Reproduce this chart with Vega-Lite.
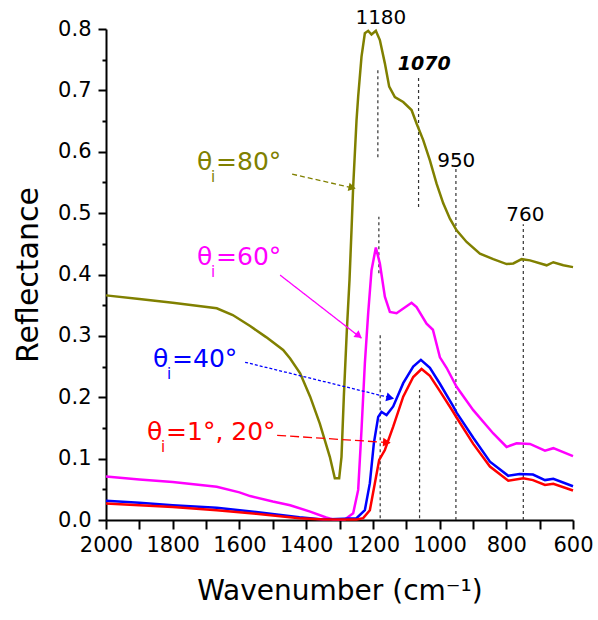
{
  "$schema": "https://vega.github.io/schema/vega-lite/v6.json",
  "width": 467,
  "height": 491,
  "autosize": {"type": "none"},
  "padding": {"left": 106, "top": 29, "right": 25, "bottom": 100},
  "config": {"view": {"stroke": null}, "font": "DejaVu Sans"},
  "datasets": {
    "curves": [
      {"s":"80","w":2000,"r":0.366},{"s":"80","w":1900,"r":0.360},{"s":"80","w":1800,"r":0.354},{"s":"80","w":1668,"r":0.345},{"s":"80","w":1620,"r":0.334},{"s":"80","w":1568,"r":0.316},{"s":"80","w":1520,"r":0.298},{"s":"80","w":1469,"r":0.277},{"s":"80","w":1448,"r":0.263},{"s":"80","w":1418,"r":0.239},{"s":"80","w":1388,"r":0.201},{"s":"80","w":1359,"r":0.157},{"s":"80","w":1329,"r":0.103},{"s":"80","w":1314,"r":0.068},{"s":"80","w":1301,"r":0.068},{"s":"80","w":1294,"r":0.103},{"s":"80","w":1287,"r":0.201},{"s":"80","w":1278,"r":0.309},{"s":"80","w":1270,"r":0.391},{"s":"80","w":1264,"r":0.472},{"s":"80","w":1259,"r":0.543},{"s":"80","w":1249,"r":0.651},{"s":"80","w":1244,"r":0.690},{"s":"80","w":1234,"r":0.755},{"s":"80","w":1224,"r":0.793},{"s":"80","w":1214,"r":0.797},{"s":"80","w":1204,"r":0.791},{"s":"80","w":1191,"r":0.797},{"s":"80","w":1179,"r":0.782},{"s":"80","w":1164,"r":0.744},{"s":"80","w":1151,"r":0.706},{"s":"80","w":1134,"r":0.689},{"s":"80","w":1109,"r":0.681},{"s":"80","w":1084,"r":0.668},{"s":"80","w":1069,"r":0.646},{"s":"80","w":1049,"r":0.619},{"s":"80","w":1029,"r":0.586},{"s":"80","w":1009,"r":0.548},{"s":"80","w":989,"r":0.516},{"s":"80","w":969,"r":0.491},{"s":"80","w":949,"r":0.472},{"s":"80","w":919,"r":0.453},{"s":"80","w":879,"r":0.434},{"s":"80","w":839,"r":0.425},{"s":"80","w":799,"r":0.417},{"s":"80","w":779,"r":0.418},{"s":"80","w":754,"r":0.425},{"s":"80","w":729,"r":0.423},{"s":"80","w":679,"r":0.415},{"s":"80","w":659,"r":0.420},{"s":"80","w":629,"r":0.415},{"s":"80","w":600,"r":0.412},
      {"s":"60","w":2000,"r":0.071},{"s":"60","w":1900,"r":0.066},{"s":"60","w":1800,"r":0.062},{"s":"60","w":1668,"r":0.054},{"s":"60","w":1600,"r":0.045},{"s":"60","w":1568,"r":0.039},{"s":"60","w":1500,"r":0.030},{"s":"60","w":1448,"r":0.024},{"s":"60","w":1388,"r":0.0136},{"s":"60","w":1340,"r":0.004},{"s":"60","w":1319,"r":0.001},{"s":"60","w":1284,"r":0.001},{"s":"60","w":1259,"r":0.011},{"s":"60","w":1244,"r":0.049},{"s":"60","w":1234,"r":0.147},{"s":"60","w":1224,"r":0.255},{"s":"60","w":1214,"r":0.337},{"s":"60","w":1204,"r":0.407},{"s":"60","w":1191,"r":0.444},{"s":"60","w":1179,"r":0.418},{"s":"60","w":1164,"r":0.364},{"s":"60","w":1149,"r":0.339},{"s":"60","w":1129,"r":0.337},{"s":"60","w":1084,"r":0.354},{"s":"60","w":1069,"r":0.347},{"s":"60","w":1039,"r":0.320},{"s":"60","w":1020,"r":0.310},{"s":"60","w":999,"r":0.265},{"s":"60","w":979,"r":0.248},{"s":"60","w":949,"r":0.217},{"s":"60","w":899,"r":0.179},{"s":"60","w":839,"r":0.141},{"s":"60","w":799,"r":0.119},{"s":"60","w":769,"r":0.125},{"s":"60","w":729,"r":0.124},{"s":"60","w":684,"r":0.113},{"s":"60","w":659,"r":0.117},{"s":"60","w":600,"r":0.104},
      {"s":"40","w":2000,"r":0.0315},{"s":"40","w":1900,"r":0.028},{"s":"40","w":1800,"r":0.024},{"s":"40","w":1668,"r":0.020},{"s":"40","w":1550,"r":0.013},{"s":"40","w":1420,"r":0.0044},{"s":"40","w":1349,"r":0.001},{"s":"40","w":1249,"r":0.003},{"s":"40","w":1224,"r":0.016},{"s":"40","w":1209,"r":0.060},{"s":"40","w":1197,"r":0.125},{"s":"40","w":1184,"r":0.168},{"s":"40","w":1174,"r":0.176},{"s":"40","w":1159,"r":0.171},{"s":"40","w":1139,"r":0.185},{"s":"40","w":1109,"r":0.223},{"s":"40","w":1079,"r":0.250},{"s":"40","w":1056,"r":0.261},{"s":"40","w":1029,"r":0.248},{"s":"40","w":999,"r":0.222},{"s":"40","w":959,"r":0.185},{"s":"40","w":949,"r":0.175},{"s":"40","w":899,"r":0.134},{"s":"40","w":849,"r":0.095},{"s":"40","w":794,"r":0.072},{"s":"40","w":760,"r":0.075},{"s":"40","w":720,"r":0.074},{"s":"40","w":684,"r":0.065},{"s":"40","w":659,"r":0.067},{"s":"40","w":600,"r":0.055},
      {"s":"20","w":2000,"r":0.027},{"s":"20","w":1900,"r":0.024},{"s":"20","w":1800,"r":0.021},{"s":"20","w":1668,"r":0.016},{"s":"20","w":1550,"r":0.010},{"s":"20","w":1420,"r":0.0028},{"s":"20","w":1349,"r":0.001},{"s":"20","w":1249,"r":0.001},{"s":"20","w":1229,"r":0.003},{"s":"20","w":1209,"r":0.016},{"s":"20","w":1194,"r":0.060},{"s":"20","w":1181,"r":0.098},{"s":"20","w":1164,"r":0.114},{"s":"20","w":1139,"r":0.152},{"s":"20","w":1109,"r":0.201},{"s":"20","w":1079,"r":0.233},{"s":"20","w":1054,"r":0.246},{"s":"20","w":1029,"r":0.235},{"s":"20","w":999,"r":0.210},{"s":"20","w":959,"r":0.176},{"s":"20","w":949,"r":0.167},{"s":"20","w":899,"r":0.124},{"s":"20","w":849,"r":0.087},{"s":"20","w":794,"r":0.064},{"s":"20","w":749,"r":0.068},{"s":"20","w":720,"r":0.065},{"s":"20","w":684,"r":0.057},{"s":"20","w":659,"r":0.059},{"s":"20","w":600,"r":0.048}
    ],
    "vlines": [
      {"w":1185,"r":0.591,"r2":0.733},
      {"w":1182,"r":0.402,"r2":0.494},
      {"w":1178,"r":0.003,"r2":0.301},
      {"w":1063,"r":0.510,"r2":0.722},
      {"w":1060,"r":0.003,"r2":0.212},
      {"w":951,"r":0.0,"r2":0.575},
      {"w":749,"r":0.0,"r2":0.482}
    ],
    "peaks": [
      {"w":1176,"r":0.808,"t":"1180"},
      {"w":950,"r":0.5755,"t":"950"},
      {"w":743,"r":0.4875,"t":"760"}
    ],
    "peakbold": [
      {"w":1046,"r":0.733,"t":"1070"}
    ],
    "arrows": [
      {"s":"80","w":1442,"r":0.5635,"w2":1257,"r2":0.5407},
      {"s":"60","w":1478,"r":0.399,"w2":1234,"r2":0.296},
      {"s":"40","w":1583,"r":0.257,"w2":1139,"r2":0.198},
      {"s":"20","w":1487,"r":0.138,"w2":1149,"r2":0.126}
    ],
    "tips": [
      {"s":"80","w":1262,"r":0.5415},
      {"s":"60","w":1242,"r":0.300},
      {"s":"40","w":1148,"r":0.199},
      {"s":"20","w":1158,"r":0.1265}
    ],
    "labels": [
      {"s":"80","w":1727,"r":0.571,"t":"=80°"},
      {"s":"60","w":1727,"r":0.415,"t":"=60°"},
      {"s":"40","w":1859,"r":0.2497,"t":"=40°"},
      {"s":"20","w":1877,"r":0.1303,"t":"=1°, 20°"}
    ]
  },
  "encoding": {
    "x": {
      "field": "w", "type": "quantitative",
      "scale": {"domain": [600, 2000], "reverse": true, "nice": false, "zero": false},
      "axis": {
        "title": "Wavenumber (cm⁻¹)",
        "values": [600,700,800,900,1000,1100,1200,1300,1400,1500,1600,1700,1800,1900,2000],
        "labelExpr": "datum.value % 200 === 0 ? datum.value : ''",
        "grid": false, "domainColor": "black", "domainWidth": 2, "tickColor": "black", "tickWidth": 2, "tickSize": 9,
        "labelFont": "DejaVu Sans", "labelFontSize": 21, "labelColor": "black", "labelPadding": 5, "labelFlush": false,
        "titleFont": "DejaVu Sans", "titleFontSize": 28, "titleFontWeight": "normal", "titleColor": "black", "titlePadding": 22
      }
    },
    "y": {
      "field": "r", "type": "quantitative",
      "scale": {"domain": [0, 0.8], "nice": false},
      "axis": {
        "title": "Reflectance",
        "values": [0,0.05,0.1,0.15,0.2,0.25,0.3,0.35,0.4,0.45,0.5,0.55,0.6,0.65,0.7,0.75,0.8],
        "labelExpr": "round(datum.value*100) % 10 === 0 ? format(datum.value, '.1f') : ''",
        "tickSize": {"condition": {"test": "round(datum.value*100) % 10 !== 0", "value": 4}, "value": 8},
        "grid": false, "domainColor": "black", "domainWidth": 2, "tickColor": "black", "tickWidth": 2,
        "labelFont": "DejaVu Sans", "labelFontSize": 21, "labelColor": "black", "labelPadding": 7, "labelFlush": false,
        "titleFont": "DejaVu Sans", "titleFontSize": 30, "titleFontWeight": "normal", "titleColor": "black", "titlePadding": 14
      }
    }
  },
  "layer": [
    {
      "data": {"name": "vlines"},
      "mark": {"type": "rule", "color": "#333333", "strokeWidth": 1.2, "strokeDash": [3, 3]},
      "encoding": {"y2": {"field": "r2"}}
    },
    {
      "data": {"name": "curves"},
      "mark": {"type": "line", "strokeWidth": 2.5},
      "encoding": {
        "color": {"field": "s", "type": "nominal", "scale": {"domain": ["80","60","40","20"], "range": ["#808000","#ff00ff","#0000ff","#ff0000"]}, "legend": null}
      }
    },
    {
      "data": {"name": "arrows"},
      "mark": {"type": "rule", "strokeWidth": 1.3},
      "encoding": {
        "x2": {"field": "w2"},
        "y2": {"field": "r2"},
        "color": {"field": "s", "type": "nominal", "scale": {"domain": ["80","60","40","20"], "range": ["#808000","#ff00ff","#0000ff","#ff0000"]}, "legend": null},
        "strokeDash": {"field": "s", "type": "nominal", "scale": {"domain": ["80","60","40","20"], "range": [[5,3],[1,0],[3,2],[9,4]]}, "legend": null}
      }
    },
    {
      "data": {"name": "tips"},
      "transform": [{"filter": "datum.s === '80'"}],
      "mark": {"type": "point", "shape": "triangle-right", "filled": true, "size": 70, "angle": 13, "opacity": 1, "color": "#808000"},
      "encoding": {}
    },
    {
      "data": {"name": "tips"},
      "transform": [{"filter": "datum.s === '60'"}],
      "mark": {"type": "point", "shape": "triangle-right", "filled": true, "size": 70, "angle": 38, "opacity": 1, "color": "#ff00ff"},
      "encoding": {}
    },
    {
      "data": {"name": "tips"},
      "transform": [{"filter": "datum.s === '40'"}],
      "mark": {"type": "point", "shape": "triangle-right", "filled": true, "size": 80, "angle": 14, "opacity": 1, "color": "#0000ff"},
      "encoding": {}
    },
    {
      "data": {"name": "tips"},
      "transform": [{"filter": "datum.s === '20'"}],
      "mark": {"type": "point", "shape": "triangle-right", "filled": true, "size": 80, "angle": 4, "opacity": 1, "color": "#ff0000"},
      "encoding": {}
    },
    {
      "data": {"name": "labels"},
      "mark": {"type": "text", "text": "θ", "align": "left", "baseline": "alphabetic", "fontSize": 25, "font": "DejaVu Sans"},
      "encoding": {
        "color": {"field": "s", "type": "nominal", "scale": {"domain": ["80","60","40","20"], "range": ["#808000","#ff00ff","#0000ff","#ff0000"]}, "legend": null}
      }
    },
    {
      "data": {"name": "labels"},
      "mark": {"type": "text", "text": "i", "align": "left", "baseline": "alphabetic", "fontSize": 15, "dx": 14, "dy": 12, "font": "DejaVu Sans"},
      "encoding": {
        "color": {"field": "s", "type": "nominal", "scale": {"domain": ["80","60","40","20"], "range": ["#808000","#ff00ff","#0000ff","#ff0000"]}, "legend": null}
      }
    },
    {
      "data": {"name": "labels"},
      "mark": {"type": "text", "align": "left", "baseline": "alphabetic", "fontSize": 25, "dx": 19, "font": "DejaVu Sans"},
      "encoding": {
        "text": {"field": "t"},
        "color": {"field": "s", "type": "nominal", "scale": {"domain": ["80","60","40","20"], "range": ["#808000","#ff00ff","#0000ff","#ff0000"]}, "legend": null}
      }
    },
    {
      "data": {"name": "peaks"},
      "mark": {"type": "text", "align": "center", "baseline": "alphabetic", "fontSize": 20, "color": "black", "font": "DejaVu Sans"},
      "encoding": {"text": {"field": "t"}}
    },
    {
      "data": {"name": "peakbold"},
      "mark": {"type": "text", "align": "center", "baseline": "alphabetic", "fontSize": 19, "fontWeight": "bold", "fontStyle": "italic", "color": "black", "font": "DejaVu Sans"},
      "encoding": {"text": {"field": "t"}}
    }
  ]
}
